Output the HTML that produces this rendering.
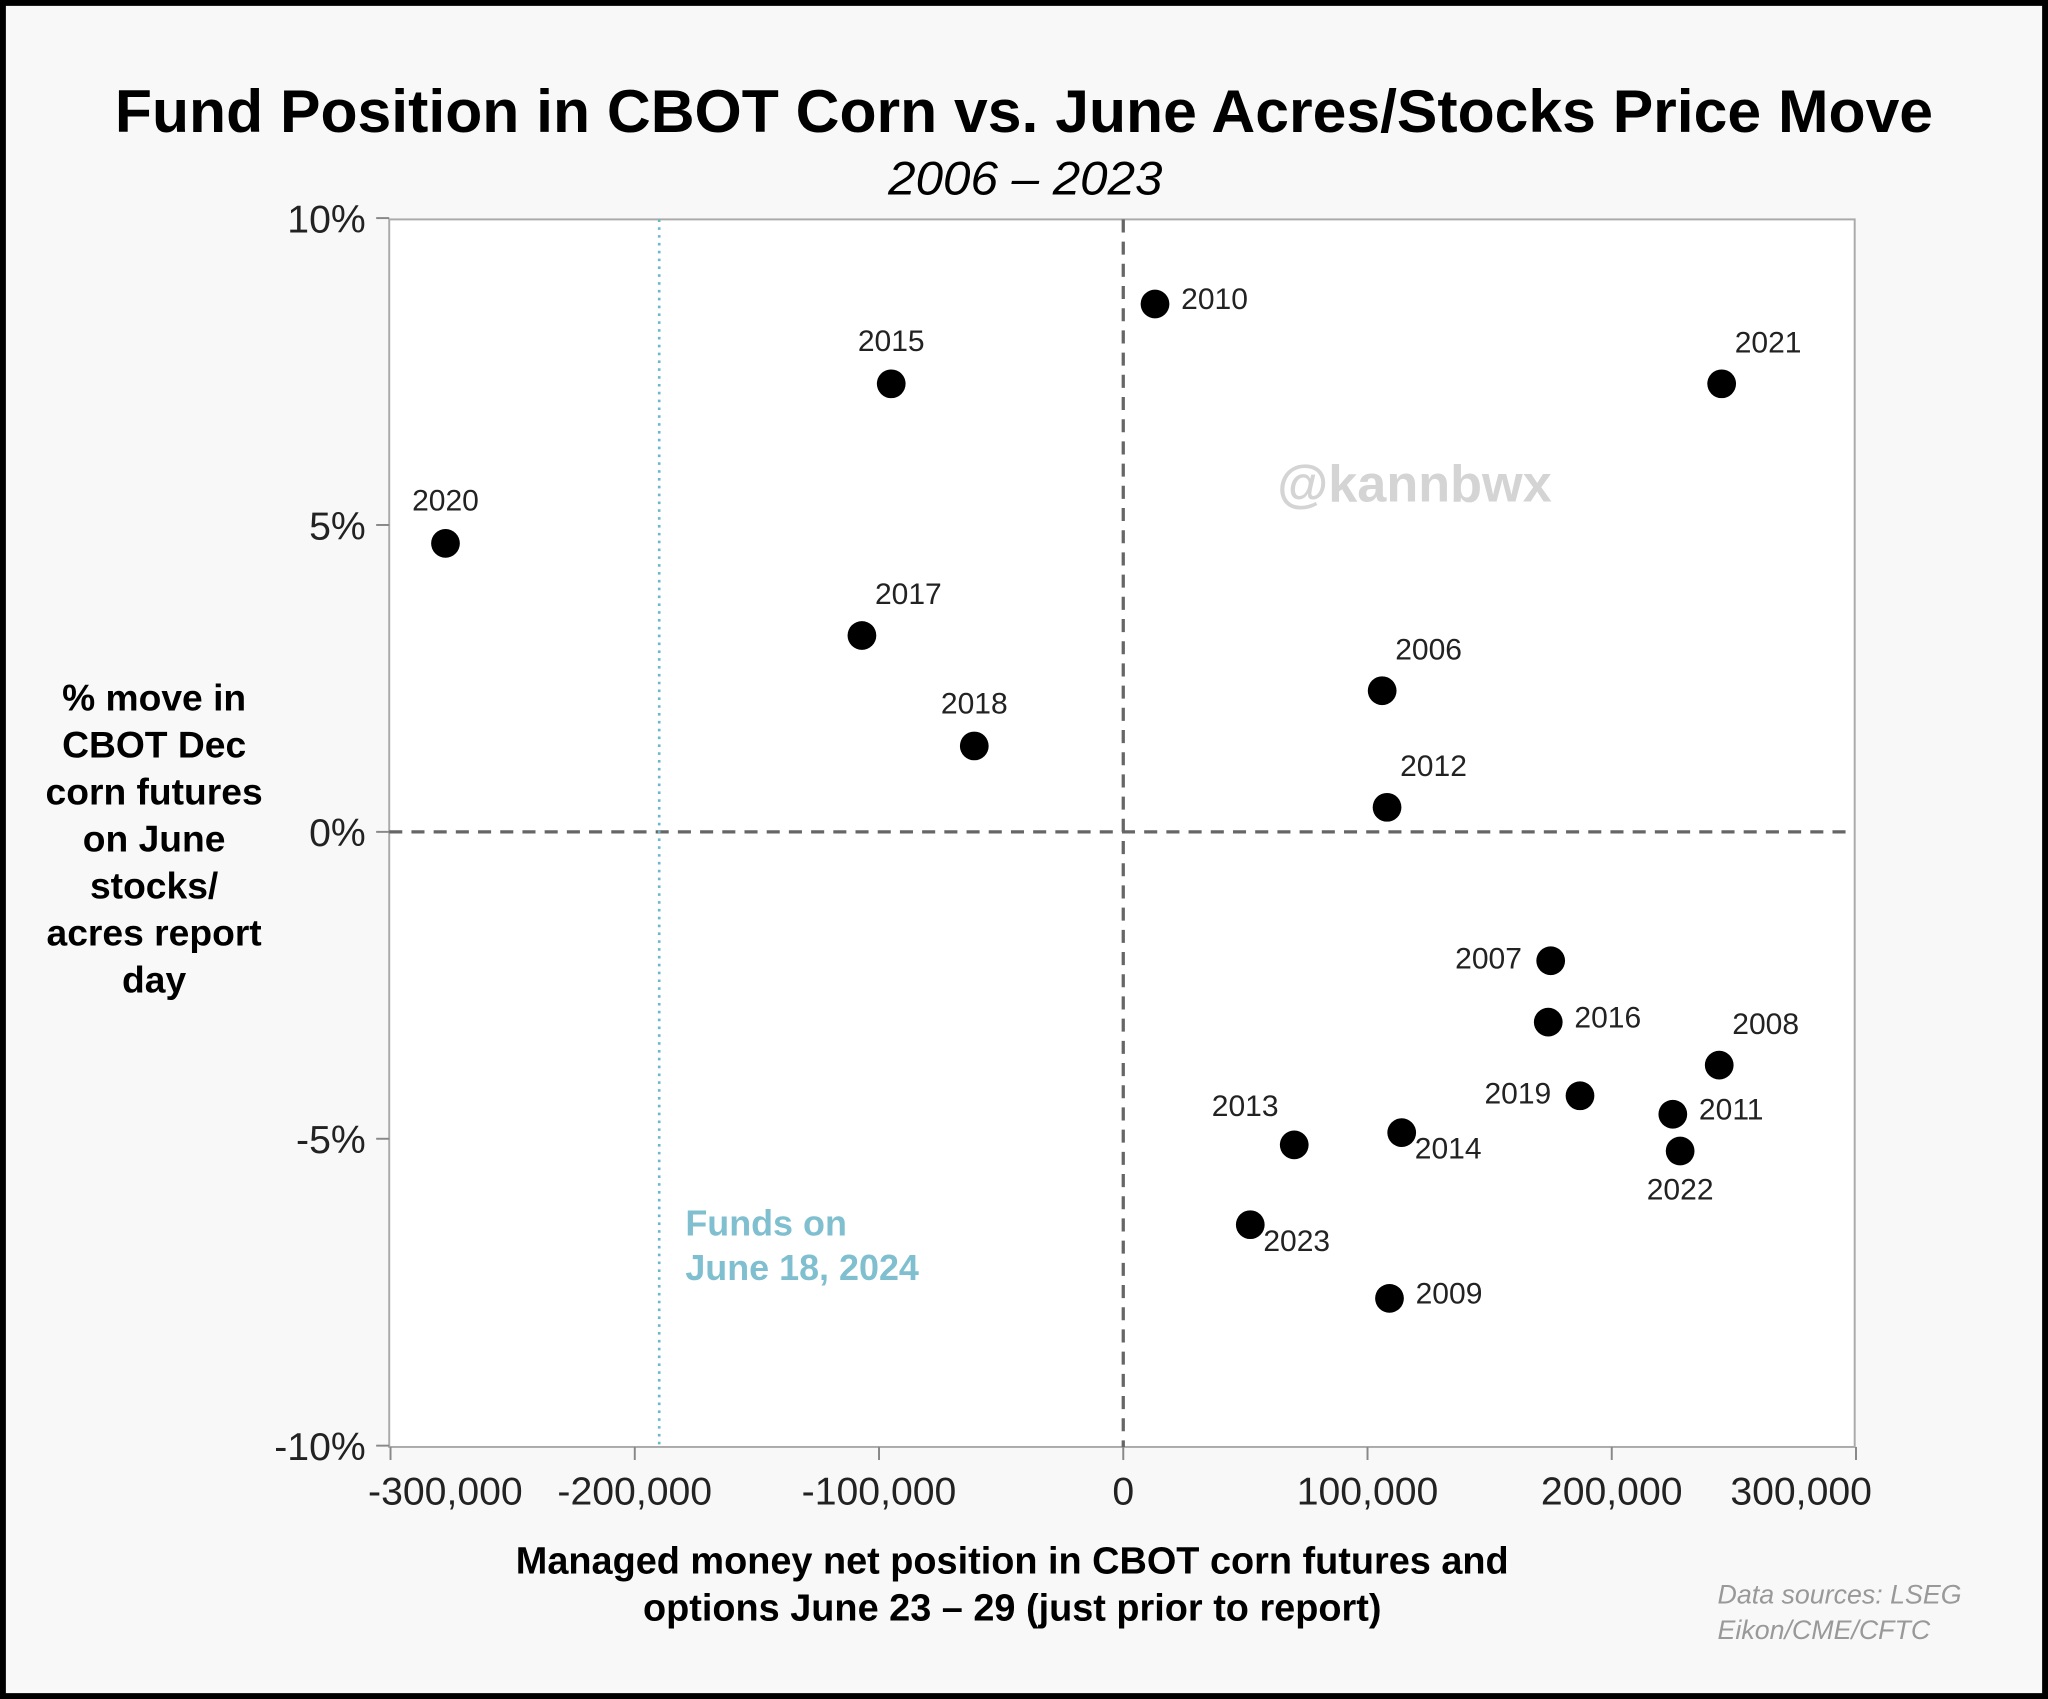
<!DOCTYPE html>
<html><head><meta charset="utf-8"><style>
html,body{margin:0;padding:0;background:#fff}
svg{display:block}
text{font-family:"Liberation Sans",sans-serif}
</style></head><body>
<svg width="2048" height="1699" viewBox="0 0 1568 1301" preserveAspectRatio="none" id="chart">
<rect x="2" y="2" width="1564" height="1297" fill="#f8f8f8" stroke="#000" stroke-width="5"/>
<text x="88" y="101" font-size="46" font-weight="bold" textLength="1392" lengthAdjust="spacingAndGlyphs">Fund Position in CBOT Corn vs. June Acres/Stocks Price Move</text>
<text x="680" y="149" font-size="36" font-style="italic" textLength="210" lengthAdjust="spacingAndGlyphs">2006 – 2023</text>
<rect x="298" y="168" width="1122" height="940" fill="#fff" stroke="#aaa" stroke-width="1.5"/>
<text x="118" y="544" text-anchor="middle" font-size="28.5" font-weight="bold"><tspan x="118">% move in</tspan><tspan x="118" dy="36">CBOT Dec</tspan><tspan x="118" dy="36">corn futures</tspan><tspan x="118" dy="36">on June</tspan><tspan x="118" dy="36">stocks/</tspan><tspan x="118" dy="36">acres report</tspan><tspan x="118" dy="36">day</tspan></text>
<text x="775" y="1205" text-anchor="middle" font-size="29" font-weight="bold"><tspan x="775">Managed money net position in CBOT corn futures and</tspan><tspan x="775" dy="36">options June 23 – 29 (just prior to report)</tspan></text>
<text x="1315" y="1228" font-size="20.5" font-style="italic" fill="#999"><tspan x="1315">Data sources: LSEG</tspan><tspan x="1315" dy="27">Eikon/CME/CFTC</tspan></text>
<text x="1083" y="384" text-anchor="middle" font-size="40" font-weight="bold" fill="#d4d4d4">@kannbwx</text>
<g id="axes"></g>
<g id="marks"></g>
</svg>
<script>
const years = ["2020","2015","2017","2018","2010","2021","2006","2012","2007","2016","2008","2019","2011","2022","2013","2014","2023","2009"];
const positions = [-277500,-95000,-107000,-61000,13000,245000,106000,108000,175000,174000,244000,187000,225000,228000,70000,114000,52000,109000];
const moves = [4.7,7.3,3.2,1.4,8.6,7.3,2.3,0.4,-2.1,-3.1,-3.8,-4.3,-4.6,-5.2,-5.1,-4.9,-6.4,-7.6];
const labelPos = ["up","up","upr","up","r","upr","upr","upr","l","r","upr","l","r","down","upl","downr","downr","r"];
const xTicks = [-300000,-200000,-100000,0,100000,200000,300000];
const xTickLabels = ["-300,000","-200,000","-100,000","0","100,000","200,000","300,000"];
const yTicks = [10,5,0,-5,-10];
const yTickLabels = ["10%","5%","0%","-5%","-10%"];
const fundsNow = -190000;

const NS="http://www.w3.org/2000/svg";
const X=v=>860+v/100000*187;
const Y=v=>637-v*47;
function mk(tag,attrs,parent,txt){const e=document.createElementNS(NS,tag);for(const k in attrs)e.setAttribute(k,attrs[k]);if(txt!==undefined)e.textContent=txt;parent.appendChild(e);return e;}
const axes=document.getElementById('axes'), marks=document.getElementById('marks');
const xLabShift=[42,0,0,0,0,0,-42];
xTicks.forEach((t,i)=>{
  const l=mk('line',{x1:X(t),x2:X(t),y1:1108,y2:1118,stroke:'#888','stroke-width':1.5},axes);
  
  
  const tx=mk('text',{x:X(t)+xLabShift[i],y:1152,'text-anchor':'middle','font-size':30,fill:'#222'},axes,xTickLabels[i]);
  
  
});
yTicks.forEach((t,i)=>{
  const l=mk('line',{x1:288,x2:298,y1:Y(t),y2:Y(t),stroke:'#888','stroke-width':1.5},axes);
  
  
  const tx=mk('text',{x:280,y:Y(t)+11,'text-anchor':'end','font-size':30,fill:'#222'},axes,yTickLabels[i]);
  
  
});
const h=mk('line',{x1:298,x2:1420,y1:Y(0),y2:Y(0),stroke:'#666','stroke-width':2.5,'stroke-dasharray':'10,7'},axes);


const v=mk('line',{x1:X(0),x2:X(0),y1:168,y2:1108,stroke:'#666','stroke-width':2.5,'stroke-dasharray':'10,7'},axes);


const f=mk('line',{x1:X(fundsNow),x2:X(fundsNow),y1:168,y2:1108,stroke:'#6bb8c8','stroke-width':2,'stroke-dasharray':'2,4'},axes);


const ft=mk('text',{x:X(fundsNow)+20,y:946,'font-size':27.5,'font-weight':'bold',fill:'#7fbfcf'},axes);


mk('tspan',{x:X(fundsNow)+20},ft,'Funds on');
mk('tspan',{x:X(fundsNow)+20,dy:34},ft,'June 18, 2024');
const off={up:[0,-25,'middle'],upr:[10,-24,'start'],upl:[-12,-22,'end'],r:[20,4,'start'],l:[-22,6,'end'],down:[0,37,'middle'],downr:[10,20,'start']};
years.forEach((yr,i)=>{
  const cx=X(positions[i]),cy=Y(moves[i]);
  const c=mk('circle',{cx:cx,cy:cy,r:11,fill:'#000'},marks);
  
  
  const o=off[labelPos[i]];
  const t=mk('text',{x:cx+o[0],y:cy+o[1],'text-anchor':o[2],'font-size':23,fill:'#222','font-family':'DejaVu Sans, sans-serif'},marks,yr);
  
  
});
</script>
</body></html>
